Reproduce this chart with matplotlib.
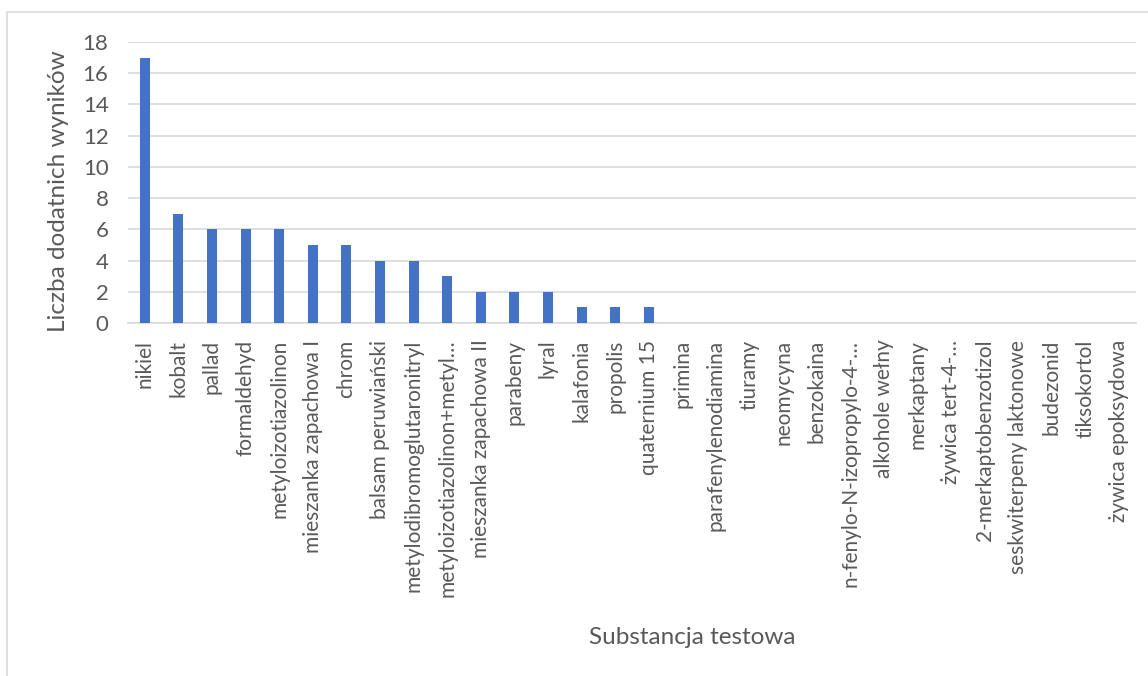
import matplotlib.pyplot as plt
from matplotlib.patches import Rectangle

substancje = [
    "nikiel", "kobalt", "pallad", "formaldehyd", "metyloizotiazolinon",
    "mieszanka zapachowa I", "chrom", "balsam peruwiański",
    "metylodibromoglutaronitryl", "metyloizotiazolinon+metyl…",
    "mieszanka zapachowa II", "parabeny", "lyral", "kalafonia", "propolis",
    "quaternium 15", "primina", "parafenylenodiamina", "tiuramy", "neomycyna",
    "benzokaina", "n-fenylo-N-izopropylo-4-…", "alkohole wełny", "merkaptany",
    "żywica tert-4-…", "2-merkaptobenzotizol", "seskwiterpeny laktonowe",
    "budezonid", "tiksokortol", "żywica epoksydowa",
]
wyniki = [17, 7, 6, 6, 6, 5, 5, 4, 4, 3, 2, 2, 2, 1, 1, 1,
          0, 0, 0, 0, 0, 0, 0, 0, 0, 0, 0, 0, 0, 0]
y_ticks = [0, 2, 4, 6, 8, 10, 12, 14, 16, 18]

plt.rcParams['font.family'] = ['Lato', 'DejaVu Sans']

fig = plt.figure(figsize=(11.48, 6.76), dpi=100)
ax = fig.add_axes([0.1115, 0.5222, 0.878, 0.4157])

x = range(len(substancje))
ax.bar(x, wyniki, width=0.3, color='#4472C4', zorder=3)

ax.set_xlim(-0.5, len(substancje) - 0.5)
ax.set_ylim(0, 18)
ax.set_yticks(y_ticks)
ax.set_xticks(list(x))
ax.set_xticklabels(substancje, rotation=90, fontsize=15, color='#595959')
ax.tick_params(axis='y', labelsize=16, colors='#595959', length=0, pad=14)
ax.tick_params(axis='x', length=0, pad=12)

ax.grid(axis='y', color='#d9d9d9', linewidth=1.2, zorder=0)
for s in ['top', 'right', 'left']:
    ax.spines[s].set_visible(False)
ax.spines['bottom'].set_color('#d9d9d9')
ax.spines['bottom'].set_linewidth(1.2)

# axis titles
fig.text(59 / 1148, 1 - 191 / 676, 'Liczba dodatnich wyników', fontsize=17.5,
         color='#595959', rotation=90, ha='center', va='center')
fig.text(692 / 1148, 1 - 638 / 676, 'Substancja testowa', fontsize=17.5,
         color='#595959', ha='center', va='center')

# chart frame
fig.patches.append(Rectangle((7 / 1148, -0.1), 1.2, 1 - 12 / 676 + 0.1,
                             transform=fig.transFigure, fill=False,
                             edgecolor='#d9d9d9', linewidth=1.2))

fig.savefig('out.png', dpi=100)
